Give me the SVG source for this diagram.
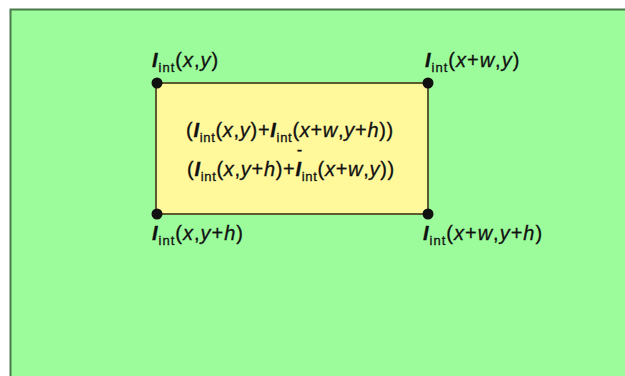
<svg xmlns="http://www.w3.org/2000/svg" width="625" height="376" viewBox="0 0 625 376">
<style>
.t{font-family:"Liberation Sans",Arial,sans-serif;font-size:20px;fill:#111;stroke:#111;stroke-width:0.3px;letter-spacing:1px;}
.c{letter-spacing:0.7px;}
.m{font-size:15px;stroke-width:0.6px;}
.b{font-weight:bold;font-style:italic;}
.i{font-style:italic;}
.s{font-size:13px;}
.dot{fill:#111;}
</style>
<rect x="0" y="0" width="625" height="376" fill="#ffffff"/>
<rect x="10.5" y="9.5" width="620" height="372" fill="#9cfc9c" stroke="#4a7a4a" stroke-width="2"/>
<g id="region">
<rect x="156" y="83" width="272" height="131" fill="#fff99c" stroke="#5c5c2e" stroke-width="2"/>
<text class="t c" x="186" y="137"><tspan>(</tspan><tspan class="b">I</tspan><tspan class="s" dy="5">int</tspan><tspan dy="-5">(</tspan><tspan class="i">x</tspan>,<tspan class="i">y</tspan>)+<tspan class="b">I</tspan><tspan class="s" dy="5">int</tspan><tspan dy="-5">(</tspan><tspan class="i">x</tspan>+<tspan class="i">w</tspan>,<tspan class="i">y</tspan>+<tspan class="i">h</tspan>))</text>
<text class="t m" x="297" y="155">-</text>
<text class="t c" x="187" y="176"><tspan>(</tspan><tspan class="b">I</tspan><tspan class="s" dy="5">int</tspan><tspan dy="-5">(</tspan><tspan class="i">x</tspan>,<tspan class="i">y</tspan>+<tspan class="i">h</tspan>)+<tspan class="b">I</tspan><tspan class="s" dy="5">int</tspan><tspan dy="-5">(</tspan><tspan class="i">x</tspan>+<tspan class="i">w</tspan>,<tspan class="i">y</tspan>))</text>
</g>
<g id="tl">
<circle class="dot" cx="157" cy="83" r="5.5"/>
<text class="t" x="152" y="67"><tspan class="b">I</tspan><tspan class="s" dy="5">int</tspan><tspan dy="-5">(</tspan><tspan class="i">x</tspan>,<tspan class="i">y</tspan>)</text>
</g>
<g id="tr">
<circle class="dot" cx="428" cy="83" r="5.5"/>
<text class="t" x="425" y="67"><tspan class="b">I</tspan><tspan class="s" dy="5">int</tspan><tspan dy="-5">(</tspan><tspan class="i">x</tspan>+<tspan class="i">w</tspan>,<tspan class="i">y</tspan>)</text>
</g>
<g id="bl">
<circle class="dot" cx="157" cy="214" r="5.5"/>
<text class="t" x="152" y="240"><tspan class="b">I</tspan><tspan class="s" dy="5">int</tspan><tspan dy="-5">(</tspan><tspan class="i">x</tspan>,<tspan class="i">y</tspan>+<tspan class="i">h</tspan>)</text>
</g>
<g id="br">
<circle class="dot" cx="428" cy="214" r="5.5"/>
<text class="t" x="423" y="240"><tspan class="b">I</tspan><tspan class="s" dy="5">int</tspan><tspan dy="-5">(</tspan><tspan class="i">x</tspan>+<tspan class="i">w</tspan>,<tspan class="i">y</tspan>+<tspan class="i">h</tspan>)</text>
</g>
</svg>
